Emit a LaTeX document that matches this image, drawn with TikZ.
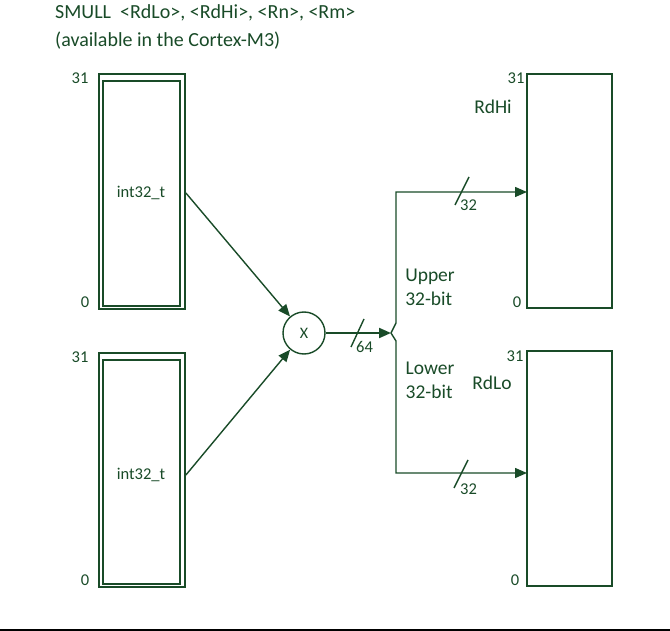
\documentclass[tikz,border=0pt]{standalone}
\usepackage{fontspec}
\setmainfont{Carlito}
\usetikzlibrary{arrows.meta}
\definecolor{dg}{RGB}{25,75,40}
\begin{document}
\begin{tikzpicture}[x=1pt,y=-1pt,
  every node/.style={text=dg},
  reg/.style={draw=dg,line width=1.8pt,rectangle,inner sep=0pt},
  wire/.style={draw=dg,line width=1.4pt},
  arr/.style={wire,-{Triangle[length=12pt,width=10pt]}},
  num/.style={font=\fontsize{16.5}{16.5}\selectfont,inner sep=0pt},
  lbl/.style={font=\fontsize{19.5}{24}\selectfont,inner sep=0pt,align=left},
  typ/.style={font=\fontsize{16.5}{16.5}\selectfont,inner sep=0pt},
  titl/.style={font=\fontsize{20}{24}\selectfont,inner sep=0pt,anchor=west}]
\useasboundingbox (0,0) rectangle (670,631);
% title
\node[titl] (t1) at (55,13) {SMULL\ \ <RdLo>, <RdHi>, <Rn>, <Rm>};
\node[titl] (t2) at (55,41) {(available in the Cortex-M3)};
% left registers
\node[reg,minimum width=86pt,minimum height=235pt] (rn) at (142,191.5) {};
\draw[reg] ([shift={(5,8)}]rn.north west) rectangle ([shift={(-6,-4)}]rn.south east);
\node[typ] (rnt) at (141,193) {int32\_t};
\node[reg,minimum width=86pt,minimum height=234pt] (rm) at (142,470) {};
\draw[reg] ([shift={(5,8)}]rm.north west) rectangle ([shift={(-6,-4)}]rm.south east);
\node[typ] (rmt) at (141,475) {int32\_t};
\node[num] (n1) at (80,78) {31};
\node[num] (n2) at (85,302) {0};
\node[num] (n3) at (80,357) {31};
\node[num] (n4) at (85,580) {0};
% multiplier
\node[draw=dg,line width=1.4pt,circle,minimum size=42pt,inner sep=0pt,font=\fontsize{16}{16}\selectfont] (mul) at (304,333) {X};
\draw[arr] (rnt.east -| rn.east) -- (mul);
\draw[arr] (rmt.east -| rm.east) -- (mul);
% fork
\coordinate (f) at (391,333);
\draw[arr,line width=2pt] (mul) -- (f);
\draw[dg,line width=1.4pt] (351,347) -- (364,319);
\node[num,anchor=west] (w64) at (356,347) {64};
% right registers
\node[reg,minimum width=85pt,minimum height=234pt] (hi) at (569.5,191) {};
\node[reg,minimum width=85pt,minimum height=235pt] (lo) at (569.5,468.5) {};
\coordinate (hiin) at (527,192);
\coordinate (loin) at (527,473);
\draw[arr] (f) -- (396,323) |- (hiin);
\draw[arr] (f) -- (396,341) |- (loin);
\draw[dg,line width=1.4pt] (455,205) -- (469,177);
\node[num,anchor=west] (w32a) at (460,205) {32};
\draw[dg,line width=1.4pt] (454,488) -- (468,460);
\node[num,anchor=west] (w32b) at (460,489) {32};
\node[lbl] (up) at (430,287) {Upper\\32-bit};
\node[lbl] (low) at (430,380) {Lower\\32-bit};
\node[lbl] (rdhi) at (493,107) {RdHi};
\node[lbl] (rdlo) at (492,383) {RdLo};
\node[num] (n5) at (516,78) {31};
\node[num] (n6) at (517,302) {0};
\node[num] (n7) at (515,356) {31};
\node[num] (n8) at (515,580) {0};
% bottom rule
\coordinate (bl) at (0,630);
\coordinate (br) at (670,630);
\draw[black,line width=1.2pt] (bl) -- (br);
\end{tikzpicture}
\end{document}
